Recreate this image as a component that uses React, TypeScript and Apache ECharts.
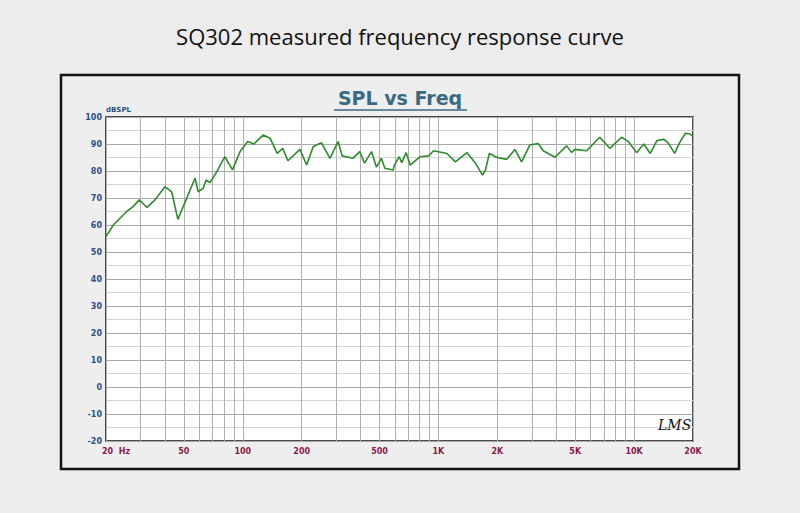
import * as echarts from 'echarts'
import { useEffect, useRef } from 'react'

// frequency (Hz) and SPL (dB)
const freqs = [20, 21.8, 25.5, 27.5, 29.6, 32.4, 35.6, 40, 43.3, 46.6, 52.1, 57, 59.2, 62.8, 64.9, 68, 73.6, 81, 88.6, 96.9, 106, 114, 127, 138, 150, 160, 170, 196, 212, 229, 252, 279, 307, 322, 365, 396, 419, 455, 482, 511, 532, 587, 594, 630, 649, 684, 717, 806, 891, 945, 1105, 1220, 1400, 1540, 1620, 1680, 1740, 1820, 1980, 2230, 2460, 2660, 2930, 3230, 3430, 3940, 4520, 4790, 4990, 5720, 6670, 7520, 8630, 9340, 10300, 11200, 12100, 13100, 14200, 15000, 16100, 17200, 18300, 19300, 20000]
const spl = [55.7, 60, 65, 66.8, 69.3, 66.5, 69.3, 74.2, 72.3, 62.1, 70.5, 77.3, 72.3, 73.6, 76.7, 75.7, 79.7, 85.3, 80.4, 87.2, 90.9, 90, 93.3, 92.1, 86.5, 88.4, 83.8, 88, 82.2, 89, 90.5, 84.7, 90.9, 85.6, 84.7, 87.2, 82.9, 87.2, 81.4, 84.7, 81, 80.4, 82, 85.3, 83.1, 86.8, 82.2, 85.3, 85.6, 87.5, 86.5, 83.4, 86.8, 83.1, 80.4, 78.5, 80.4, 86.5, 85.1, 84.3, 88, 83.4, 89.6, 90.2, 87.5, 85.1, 89.3, 86.9, 88, 87.5, 92.5, 88.4, 92.5, 90.9, 86.8, 90, 86.5, 91.3, 91.7, 90.2, 86.5, 90.9, 94, 93.7, 92.7]

const gridFreqs = [20, 30, 40, 50, 60, 70, 80, 90, 100, 200, 300, 400, 500, 600, 700, 800, 900, 1000, 2000, 3000, 4000, 5000, 6000, 7000, 8000, 9000, 10000, 20000]
const tickFreqs = [20, 50, 100, 200, 500, 1000, 2000, 5000, 10000, 20000]
const tickLabels = ['20  Hz', '50', '100', '200', '500', '1K', '2K', '5K', '10K', '20K']

const App = () => {
  const ref = useRef<HTMLDivElement>(null)

  useEffect(() => {
    if (!ref.current) return
    const chart = echarts.init(ref.current, null, { renderer: 'svg' })
    chart.setOption({
      animation: false,
      backgroundColor: '#ececec',
      title: {
        text: 'SQ302 measured frequency response curve',
        left: 'center',
        top: 20,
        textStyle: { fontFamily: 'Open Sans', fontWeight: 'normal', fontSize: 22, color: '#111' }
      },
      graphic: [
        { type: 'rect', shape: { x: 61, y: 75, width: 678, height: 394 }, style: { fill: '#eeeeee', stroke: '#111', lineWidth: 2.5 }, z: -10 },
        { type: 'text', x: 400, y: 88, style: { text: 'SPL vs Freq', fontFamily: 'Verdana, DejaVu Sans', fontWeight: 'bold', fontSize: 19, fill: '#3a6a82', align: 'center' } },
        { type: 'line', shape: { x1: 334, y1: 110, x2: 467, y2: 110 }, style: { stroke: '#3a6a82', lineWidth: 1.5 } },
        { type: 'text', x: 106, y: 106, style: { text: 'dBSPL', fontFamily: 'DejaVu Sans', fontSize: 7, fontWeight: 'bold', fill: '#2e4f7e' } },
        { type: 'text', x: 658, y: 418, style: { text: 'LMS', fontFamily: 'DejaVu Serif', fontStyle: 'italic', fontSize: 14, fill: '#111' }, z: 100 }
      ],
      grid: { left: 106, right: 107, top: 117, bottom: 72, backgroundColor: '#fff', show: true, borderColor: '#111', borderWidth: 1.5 },
      xAxis: {
        type: 'log', logBase: 10, min: 20, max: 20000,
        axisLine: { show: false }, axisTick: { show: false }, axisLabel: { show: false },
        splitLine: { show: false }
      },
      yAxis: {
        type: 'value', min: -20, max: 100, interval: 10,
        axisLine: { show: false }, axisTick: { show: false },
        axisLabel: { color: '#2e4f7e', fontSize: 8, fontWeight: 'bold', fontFamily: 'DejaVu Sans', margin: 4 },
        splitLine: { lineStyle: { color: '#a8a8a8', width: 1 } },
        minorTick: { show: false, splitNumber: 2 },
        minorSplitLine: { show: true, lineStyle: { color: '#d4d4d4', width: 1 } }
      },
      series: [
        {
          type: 'line', data: [], silent: true,
          markLine: {
            symbol: 'none', silent: true, animation: false,
            lineStyle: { color: '#b0b0b0', type: 'solid', width: 1 },
            label: { show: false },
            data: gridFreqs.map(f => ({ xAxis: f }))
          }
        },
        {
          type: 'line', data: [], silent: true,
          markLine: {
            symbol: 'none', silent: true, animation: false,
            lineStyle: { color: 'rgba(0,0,0,0)', width: 1 },
            label: {
              show: true, position: 'start', distance: 6, color: '#8b1a4a',
              fontSize: 8, fontWeight: 'bold', fontFamily: 'DejaVu Sans',
              formatter: (p: { dataIndex: number }) => tickLabels[p.dataIndex]
            },
            data: tickFreqs.map((f, i) => (i === 0 ? { xAxis: f, label: { align: 'left', offset: [-4, 0] } } : { xAxis: f }))
          }
        },
        {
          type: 'line', showSymbol: false, smooth: false,
          lineStyle: { color: '#2e8b2e', width: 1.6 },
          data: freqs.map((f, i) => [f, spl[i]]),
          z: 5
        }
      ]
    })
    return () => chart.dispose()
  }, [])

  return <div ref={ref} style={{ position: 'fixed', left: 0, top: 0, width: 800, height: 513 }} />
}

export default App
